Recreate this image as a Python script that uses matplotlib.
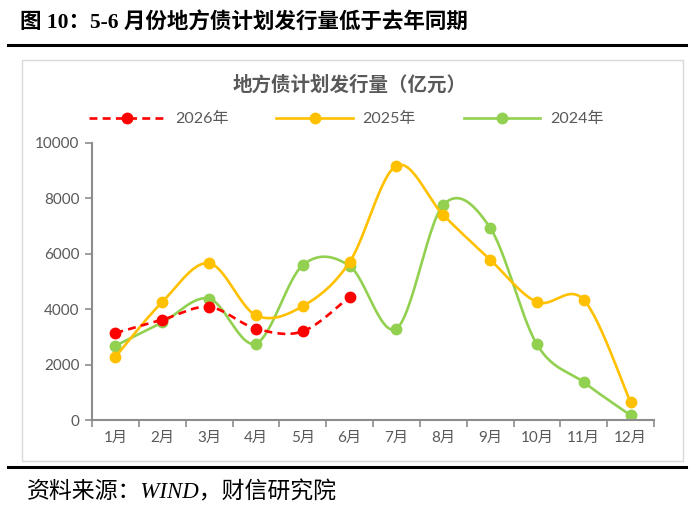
import numpy as np
import matplotlib.pyplot as plt
from matplotlib.patches import Rectangle
from matplotlib.lines import Line2D

months = ["1月", "2月", "3月", "4月", "5月", "6月", "7月", "8月", "9月", "10月", "11月", "12月"]
v2026 = [3140, 3620, 4080, 3300, 3200, 4450]
v2025 = [2280, 4260, 5660, 3780, 4110, 5700, 9180, 7400, 5790, 4260, 4340, 640]
v2024 = [2680, 3520, 4380, 2760, 5590, 5560, 3300, 7760, 6940, 2730, 1360, 170]

cjk = "Noto Sans CJK SC"
axis_font = ["Lato", cjk]
grey = "#595959"


def smooth(xs, ys, n=30):
    # Excel-like smoothed line (Catmull-Rom bezier)
    xs = np.asarray(xs, float)
    ys = np.asarray(ys, float)
    px = np.concatenate([[xs[0]], xs, [xs[-1]]])
    py = np.concatenate([[ys[0]], ys, [ys[-1]]])
    ox, oy = [], []
    t = np.linspace(0, 1, n)
    for i in range(1, len(px) - 2):
        p0 = np.array([px[i], py[i]])
        p3 = np.array([px[i + 1], py[i + 1]])
        c1 = p0 + (np.array([px[i + 1], py[i + 1]]) - np.array([px[i - 1], py[i - 1]])) / 6
        c2 = p3 - (np.array([px[i + 2], py[i + 2]]) - np.array([px[i], py[i]])) / 6
        b = ((1 - t) ** 3)[:, None] * p0 + (3 * (1 - t) ** 2 * t)[:, None] * c1 \
            + (3 * (1 - t) * t ** 2)[:, None] * c2 + (t ** 3)[:, None] * p3
        ox.extend(b[:, 0])
        oy.extend(b[:, 1])
    return ox, oy


fig = plt.figure(figsize=(6.93, 5.16), dpi=100)
ax = fig.add_axes([92 / 693, 1 - 420 / 516, (654 - 92) / 693, (420 - 143) / 516])

series = [
    ("2026年", v2026, "#FF0000", "--"),
    ("2025年", v2025, "#FFC000", "-"),
    ("2024年", v2024, "#92D050", "-"),
]
handles = []
for label, vals, color, ls in reversed(series):
    x = np.arange(1, len(vals) + 1)
    sx, sy = smooth(x, vals)
    ax.plot(sx, sy, color=color, lw=1.9, ls=ls, dashes=(3, 2) if ls == "--" else (None, None))
    ax.plot(x, vals, "o", color=color, ms=7.5, mec=color)
for label, vals, color, ls in series:
    h = Line2D([], [], color=color, lw=1.9, ls=ls, marker="o", ms=7.5)
    if ls == "--":
        h.set_dashes((3, 2))
    handles.append(h)

ax.set_xlim(0.5, 12.5)
ax.set_ylim(0, 10000)
ax.set_yticks(range(0, 10001, 2000))
ax.set_xticks(np.arange(1, 13))
ax.set_xticklabels(months)
ax.set_xticks(np.arange(0.5, 13, 1), minor=True)
ax.tick_params(axis="x", which="major", length=0, pad=8)
ax.tick_params(axis="x", which="minor", length=5, width=1.2, color="#8C8C8C", direction="out")
ax.tick_params(axis="y", length=5, width=1.2, color="#8C8C8C", direction="out", pad=4)
for lab in ax.get_xticklabels() + ax.get_yticklabels():
    lab.set_family(axis_font)
    lab.set_fontsize(11)
    lab.set_color(grey)
for s in ["top", "right"]:
    ax.spines[s].set_visible(False)
for s in ["left", "bottom"]:
    ax.spines[s].set_color("#8C8C8C")
    ax.spines[s].set_linewidth(1.5)

fig.legend(handles=handles, labels=[s[0] for s in series], loc="center",
           bbox_to_anchor=(346 / 693, 1 - 119 / 516), ncol=3, frameon=False,
           handlelength=4.8, handletextpad=0.6, columnspacing=3.0,
           prop={"family": axis_font, "size": 11.5}, labelcolor=grey)

fig.text(350 / 693, 1 - 85 / 516, "地方债计划发行量（亿元）", ha="center", va="center",
         fontsize=14, fontweight="bold", color=grey, family=[cjk])

fig.text(20 / 693, 1 - 23 / 516, "图 10：5-6 月份地方债计划发行量低于去年同期", ha="left", va="center",
         fontsize=15.5, fontweight="bold", family=["Liberation Serif", cjk])
fig.text(27 / 693, 1 - 492 / 516, "资料来源：WIND，财信研究院", ha="left", va="center",
         fontsize=16.5, style="italic", family=["Liberation Serif", cjk])

fig.add_artist(Line2D([8 / 693, 686 / 693], [1 - 45 / 516, 1 - 45 / 516], color="black", lw=2.2))
fig.add_artist(Line2D([8 / 693, 686 / 693], [1 - 467 / 516, 1 - 467 / 516], color="black", lw=2.2))
fig.add_artist(Rectangle((22 / 693, 1 - 461 / 516), 661 / 693, 401 / 516, fill=False,
                         ec="#D9D9D9", lw=1.0))

fig.savefig("out.png", dpi=100)
